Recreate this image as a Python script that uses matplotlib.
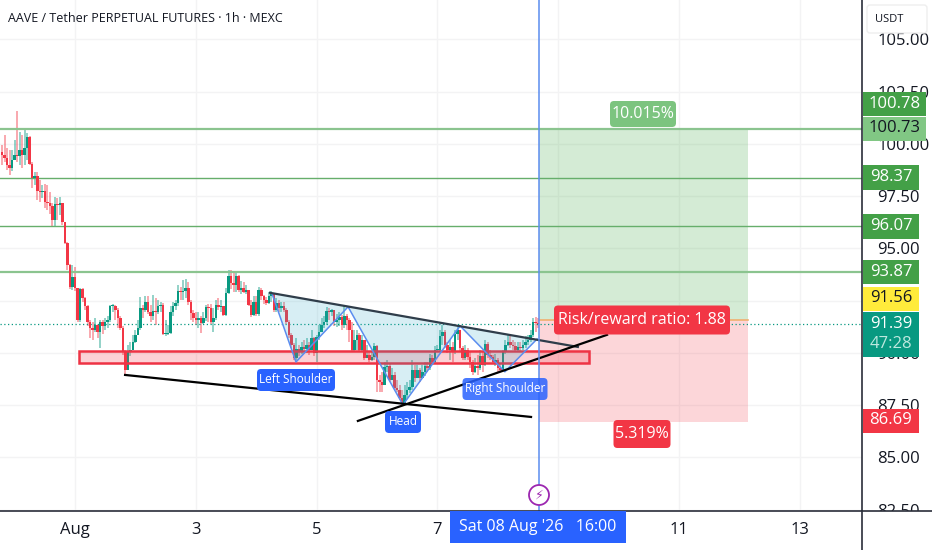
import numpy as np
import matplotlib
matplotlib.use("Agg")
import matplotlib.pyplot as plt
from matplotlib.patches import Rectangle, FancyBboxPatch, Circle

plt.rcParams['font.family'] = ['Open Sans', 'DejaVu Sans']

# candles, 1h
first_open = 99.60
closes = [
    99.47, 99.32, 98.99, 98.85, 99.23, 99.47, 99.42, 99.71, 99.47, 99.80,
    100.33, 99.04, 98.37, 98.46, 97.75, 97.70, 97.75, 97.22, 97.17, 97.03,
    96.36, 97.12, 97.08, 97.17, 96.26, 95.26, 94.20, 93.15, 93.63, 93.10,
    91.57, 93.06, 92.63, 92.24, 91.48, 91.19, 91.10, 91.33, 91.00, 91.48,
    91.29, 91.48, 91.57, 92.24, 92.24, 92.05, 91.67, 91.19, 90.04, 89.18,
    90.04, 90.14, 90.52, 90.86, 91.19, 92.15, 92.05, 92.43, 91.95, 91.76,
    92.00, 91.95, 92.24, 92.29, 90.90, 90.90, 90.95, 91.95, 92.24, 92.39,
    92.96, 92.91, 92.96, 93.10, 92.43, 91.91, 91.67, 91.57, 91.67, 91.43,
    91.67, 92.20, 92.15, 91.48, 91.67, 92.29, 92.20, 92.24, 91.81, 92.87,
    93.68, 93.34, 93.25, 93.68, 93.01, 93.10, 92.91, 93.01, 92.29, 91.81,
    92.43, 91.86, 93.01, 92.72, 92.53, 92.39, 92.72, 92.82, 92.05, 92.39,
    92.15, 92.24, 92.05, 91.48, 90.86, 90.38, 89.75, 90.19, 90.04, 90.28,
    90.19, 90.38, 90.14, 90.71, 89.99, 90.76, 91.00, 91.33, 91.48, 92.00,
    91.95, 92.05, 91.48, 91.57, 91.72, 91.33, 91.76, 91.57, 91.10, 90.14,
    90.62, 90.86, 90.14, 90.62, 89.75, 89.90, 89.66, 89.80, 90.33, 88.70,
    88.61, 88.46, 89.32, 89.37, 88.70, 88.94, 88.32, 88.22, 87.84, 87.60,
    87.98, 88.22, 88.37, 89.18, 88.80, 89.18, 88.80, 89.09, 89.37, 89.28,
    89.75, 89.56, 90.14, 90.14, 90.81, 91.00, 90.38, 90.14, 90.28, 90.04,
    90.90, 91.10, 90.23, 89.75, 90.14, 89.80, 89.56, 89.09, 89.37, 89.28,
    89.85, 89.42, 90.43, 89.90, 89.80, 89.56, 89.66, 89.28, 89.18, 90.04,
    90.38, 90.52, 90.38, 90.33, 90.14, 90.28, 90.23, 90.38, 90.52, 90.62,
    90.86, 91.48, 91.43, 91.39,
]
highs = [
    99.95, 100.43, 99.80, 99.71, 99.71, 100.19, 101.57, 100.57, 100.43, 100.66,
    100.52, 100.38, 99.13, 98.66, 98.66, 98.27, 98.03, 98.08, 98.03, 97.70,
    97.17, 97.46, 97.41, 97.46, 97.17, 96.26, 95.31, 94.25, 94.20, 94.11,
    93.10, 93.10, 93.10, 92.67, 92.29, 91.57, 91.48, 91.67, 91.38, 91.57,
    91.57, 91.67, 91.76, 92.29, 92.34, 92.29, 92.15, 91.76, 91.29, 90.14,
    90.38, 90.52, 90.86, 91.10, 91.57, 92.67, 92.29, 92.72, 92.72, 92.29,
    92.77, 92.63, 92.53, 92.43, 92.39, 91.57, 91.33, 92.24, 92.43, 92.53,
    93.25, 93.15, 93.49, 93.54, 93.39, 92.53, 92.05, 91.95, 91.95, 91.76,
    91.95, 92.29, 92.34, 92.34, 92.15, 92.53, 92.63, 92.53, 92.24, 93.10,
    93.97, 93.97, 93.87, 93.87, 93.73, 93.44, 93.39, 93.25, 93.01, 92.53,
    92.72, 92.72, 93.15, 93.10, 92.77, 92.67, 92.91, 92.96, 92.87, 92.63,
    92.53, 92.43, 92.43, 92.15, 91.57, 90.95, 90.47, 90.71, 90.38, 90.52,
    90.62, 90.71, 90.52, 91.10, 90.76, 90.86, 91.33, 91.67, 91.76, 92.20,
    92.15, 92.10, 91.95, 91.86, 91.95, 91.81, 92.24, 91.86, 91.67, 91.48,
    91.10, 91.10, 90.95, 90.86, 90.14, 90.38, 90.04, 90.09, 90.47, 90.38,
    88.94, 89.09, 89.56, 89.66, 89.51, 89.28, 89.09, 88.70, 88.46, 88.22,
    88.46, 88.61, 88.70, 89.66, 89.42, 89.42, 89.28, 89.42, 89.56, 89.56,
    89.95, 89.90, 90.33, 90.38, 91.10, 91.33, 91.10, 90.52, 90.62, 90.52,
    91.10, 91.29, 91.10, 90.33, 90.38, 90.23, 90.04, 89.66, 89.75, 89.90,
    90.14, 90.04, 90.62, 90.52, 90.14, 89.90, 89.95, 89.75, 89.51, 90.14,
    90.62, 90.86, 90.81, 90.62, 90.52, 90.52, 90.52, 90.62, 90.81, 90.86,
    91.10, 91.67, 91.72, 91.67,
]
lows = [
    98.99, 99.13, 98.75, 98.51, 98.70, 99.23, 99.13, 98.99, 98.85, 98.99,
    99.23, 98.99, 97.89, 98.03, 97.32, 97.22, 97.41, 96.93, 96.84, 96.65,
    96.07, 96.07, 96.36, 96.60, 96.12, 95.21, 93.97, 93.06, 93.01, 92.96,
    91.48, 91.48, 92.43, 92.05, 91.29, 90.71, 90.62, 91.00, 90.71, 90.23,
    90.90, 91.10, 91.19, 91.48, 91.95, 91.57, 91.19, 91.10, 89.90, 88.89,
    89.18, 89.85, 90.14, 90.47, 90.86, 91.10, 91.67, 91.95, 91.86, 91.48,
    91.57, 91.33, 91.86, 91.95, 90.86, 90.81, 90.86, 90.90, 91.76, 92.05,
    92.24, 92.53, 92.53, 92.63, 92.29, 91.57, 91.48, 91.33, 91.19, 90.95,
    91.38, 91.52, 91.48, 91.38, 91.00, 91.57, 92.05, 91.95, 91.76, 91.76,
    92.82, 93.06, 92.91, 92.91, 92.91, 92.82, 92.87, 92.82, 92.24, 91.72,
    91.76, 91.76, 91.76, 92.53, 92.34, 92.29, 92.34, 92.43, 91.95, 91.95,
    91.95, 91.95, 91.95, 91.38, 90.71, 90.23, 89.66, 89.66, 89.85, 89.95,
    90.04, 89.99, 89.90, 90.38, 89.85, 89.56, 90.62, 91.00, 91.19, 91.33,
    91.57, 91.76, 91.29, 91.24, 91.29, 91.10, 91.19, 91.10, 90.52, 90.04,
    90.04, 90.14, 90.04, 90.04, 89.66, 89.75, 89.56, 89.61, 89.66, 88.13,
    88.13, 88.13, 88.46, 89.09, 88.61, 88.70, 88.22, 88.13, 87.75, 87.51,
    87.60, 87.79, 88.08, 88.22, 88.61, 88.80, 88.61, 88.80, 88.89, 89.09,
    89.18, 89.42, 89.47, 90.04, 90.04, 90.38, 90.23, 89.99, 89.66, 89.56,
    89.95, 90.62, 90.04, 89.66, 89.66, 89.66, 89.28, 88.94, 89.04, 88.94,
    89.18, 89.09, 89.37, 89.75, 89.66, 89.47, 89.37, 89.09, 89.09, 89.13,
    89.95, 90.33, 90.23, 90.14, 90.04, 90.04, 90.04, 90.14, 90.23, 90.38,
    90.52, 90.76, 91.00, 91.20,
]
opens = [first_open] + closes[:-1]
hours = np.arange(184 - len(closes) + 1, 185)  # hours since 1 Aug 00:00

# drawings
target_levels = [100.73, 98.37, 96.07, 93.87]
price_now = 91.39
entry = 91.56
stop = 86.69
pos_start, pos_end = 184.3, 267.4
zone_hours = [1.6, 204.2]
zone_prices = [89.52, 90.09]
pattern_hours = [78.3, 87.8, 108.5, 130.3, 153.0, 170.8, 183.6]
pattern_prices = [92.82, 89.56, 92.20, 87.51, 91.29, 89.09, 90.66]
support_hours = [19.9, 181.2]
support_prices = [88.94, 86.93]
neck_hours = [77.5, 199.8]
neck_prices = [92.87, 90.28]
rise_hours = [112.4, 211.4]
rise_prices = [86.74, 90.86]

# axes labels
price_ticks = [82.5, 85, 87.5, 90, 92.5, 95, 97.5, 100, 102.5, 105]
price_labels = ["82.50", "85.00", "87.50", "90.00", "", "95.00", "97.50", "100.00", "102.50", "105.00"]
time_ticks = [0, 48, 96, 144, 192, 240, 288]
time_labels = ["Aug", "3", "5", "7", "", "11", "13"]

UP = "#089981"
DOWN = "#F23645"
GREEN = "#4CAF50"
BLUE = "#2962FF"

W, H = 932, 550
fig = plt.figure(figsize=(W / 100, H / 100), dpi=100, facecolor="white")
ax = fig.add_axes([0, (H - 511) / H, 862 / W, 511 / H])
ax.set_xlim(-29.8, 312.7)
ax.set_ylim(82.43, 106.88)

ax.set_yticks(price_ticks)
ax.set_yticklabels(price_labels, fontsize=12, color="#131722")
ax.yaxis.tick_right()
ax.tick_params(axis="y", length=0, pad=11)
ax.set_xticks(time_ticks)
ax.tick_params(axis="x", length=0, labelbottom=False)
ax.grid(color="#f3f3f4", lw=1)
ax.set_axisbelow(True)
for s in ["top", "left", "bottom"]:
    ax.spines[s].set_visible(False)
ax.spines["right"].set_color("#2a2e39")
ax.spines["right"].set_linewidth(1.2)

# candles
colors = [UP if c >= o else DOWN for o, c in zip(opens, closes)]
ax.vlines(hours, lows, highs, colors=colors, lw=1.1, alpha=0.55, zorder=2)
bottoms = np.minimum(opens, closes)
heights = np.maximum(np.abs(np.array(closes) - np.array(opens)), 0.05)
ax.bar(hours, heights, bottom=bottoms, width=1.0, color=colors, zorder=3)

# levels
for lv in target_levels:
    thick = lv in (100.73, 93.87)
    ax.axhline(lv, color="#66AE6B" if not thick else "#8BC48F", lw=1.0 if not thick else 1.6, zorder=2)
ax.axhline(price_now, color=UP, lw=0.9, ls=(0, (1, 2)), zorder=2)

# long position
ax.add_patch(Rectangle((pos_start, entry), pos_end - pos_start, target_levels[0] - entry,
                       color=GREEN, alpha=0.24, lw=0, zorder=1))
ax.add_patch(Rectangle((pos_start, stop), pos_end - pos_start, entry - stop,
                       color=DOWN, alpha=0.2, lw=0, zorder=1))
ax.plot([pos_start, pos_end], [entry, entry], color="#F0B070", lw=1.2, zorder=2)

# demand zone
ax.add_patch(Rectangle((zone_hours[0], zone_prices[0]), zone_hours[1] - zone_hours[0],
                       zone_prices[1] - zone_prices[0], fc=(0.95, 0.21, 0.27, 0.22),
                       ec="#EE3344", lw=1.8, zorder=4))

# head and shoulders
ax.fill(pattern_hours, pattern_prices, color="#26A6C6", alpha=0.18, lw=0, zorder=4)
ax.plot(pattern_hours, pattern_prices, color="#5B8DEF", lw=1.1, zorder=5)

# trend lines
ax.plot(support_hours, support_prices, color="black", lw=1.6, zorder=6)
ax.plot(neck_hours, neck_prices, color="#2f3d4a", lw=1.6, zorder=6)
ax.plot(rise_hours, rise_prices, color="black", lw=1.6, zorder=6)

# crosshair
ax.axvline(pos_start, color="#5B8DEF", lw=1.1, zorder=7)

# pixel overlay for tags and labels
ov = fig.add_axes([0, 0, 1, 1], zorder=3, facecolor="none")
ov.set_xlim(0, W)
ov.set_ylim(H, 0)
ov.axis("off")
ov.add_patch(Rectangle((0, 511), W, 39, fc="white", ec="none", zorder=0))
ov.plot([0, W], [511, 511], color="#2a2e39", lw=1.2, zorder=1)
ov.plot([862, 862], [511, 550], color="#2a2e39", lw=1.2, zorder=1)
for x, lab in zip(time_ticks, time_labels):
    if lab:
        px = 75 + 2.517 * x
        ov.text(px, 530, lab, ha="center", va="center", fontsize=12, color="#131722", zorder=2)


def tag(x0, x1, y0, y1, text, bg, fg="white", size=12, alpha=1.0):
    ov.add_patch(Rectangle((x0, y0), x1 - x0, y1 - y0, fc=bg, ec="none", alpha=alpha, zorder=3))
    ov.text((x0 + x1) / 2, (y0 + y1) / 2 - 0.5, text, ha="center", va="center",
            fontsize=size, color=fg, zorder=4)


def label(cx, cy, w, h, text, bg, size=8.5, fg="white", alpha=1.0):
    ov.add_patch(FancyBboxPatch((cx - w / 2 + 3, cy - h / 2 + 3), w - 6, h - 6,
                                boxstyle="round,pad=3,rounding_size=4", fc=bg, ec="none",
                                alpha=alpha, zorder=3))
    ov.text(cx, cy - 0.5, text, ha="center", va="center", fontsize=size, color=fg, zorder=4)


tag(863, 926, 92, 116, "100.78", "#43A047")
tag(863, 926, 117, 141, "100.73", "#81C784", fg="#131722")
tag(863, 919, 165, 190, "98.37", "#43A047")
tag(863, 919, 214, 239, "96.07", "#43A047")
tag(863, 919, 260, 284, "93.87", "#43A047")
tag(863, 919, 287, 311, "91.56", "#FFEB3B", fg="#131722")
ov.add_patch(Rectangle((863, 312), 56, 45, fc="#089981", ec="none", zorder=3))
ov.text(891, 323.5, "91.39", ha="center", va="center", fontsize=12, color="white", zorder=4)
ov.text(891, 344.5, "47:28", ha="center", va="center", fontsize=12, color="#BDE8DF", zorder=4)
tag(863, 919, 409, 433, "86.69", "#F23645")

# USDT box
ov.add_patch(FancyBboxPatch((868, 6), 58, 26, boxstyle="round,pad=1,rounding_size=3",
                            fc="white", ec="#eeeeee", lw=1, zorder=3))
ov.text(875, 19, "USDT", ha="left", va="center", fontsize=8, color="#131722", zorder=4)

ov.text(8, 18, "AAVE / Tether PERPETUAL FUTURES · 1h · MEXC", ha="left", va="center",
        fontsize=9, color="#131722", zorder=4)

label(296, 380, 78, 22, "Left Shoulder", BLUE)
label(403, 422, 36, 22, "Head", BLUE)
label(505, 389, 85, 22, "Right Shoulder", BLUE, alpha=0.85)
label(643, 114, 66, 26, "10.015%", "#7CC47F", size=11.5)
label(642, 320, 176, 29, "Risk/reward ratio: 1.88", "#F23645", size=11.5)
label(642, 434, 57, 28, "5.319%", "#F23645", size=11.5)

ov.add_patch(Rectangle((450, 511), 176, 32, fc=BLUE, ec="none", zorder=3))
ov.text(538, 527, "Sat 08 Aug '26   16:00", ha="center", va="center", fontsize=11.5,
        color="white", zorder=4)

# event marker
ov.add_patch(Circle((539, 495), 10, fc="white", ec="#9C27B0", lw=1.3, zorder=3))
ov.text(539, 495, "⚡", ha="center", va="center", fontsize=9, color="#9C27B0",
        family=["DejaVu Sans"], zorder=4)

fig.savefig("out.png", dpi=100)
